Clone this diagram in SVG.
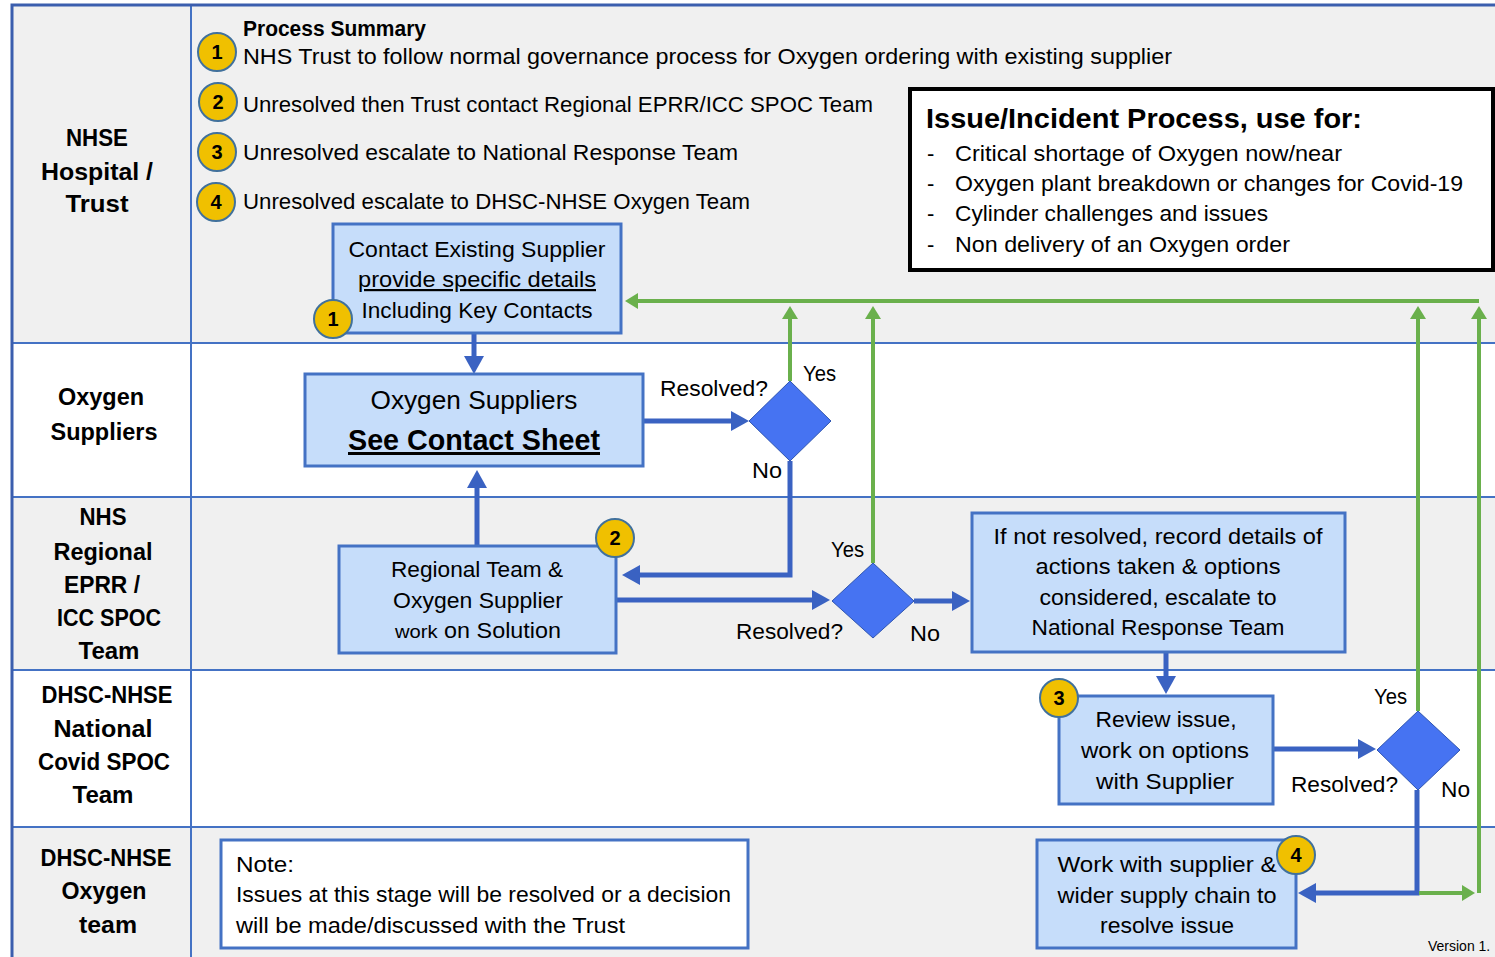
<svg xmlns="http://www.w3.org/2000/svg" width="1495" height="957" viewBox="0 0 1495 957">
<defs>
<style>
text{font-family:"Liberation Sans",Arial,sans-serif;fill:#000}
.lane{font-size:23px;font-weight:bold;text-anchor:middle}
.t{font-size:22px}
.c{text-anchor:middle}
.b{font-weight:bold}
.num{font-size:20px;font-weight:bold;text-anchor:middle}
.box{fill:#C6DDFA;stroke:#4472C4;stroke-width:3}
.dia{fill:#4673F2;stroke:#2F55B0;stroke-width:1}
.circ{fill:#F0C000;stroke:#41719C;stroke-width:2}
.div{stroke:#4472C4;stroke-width:2;fill:none}
.bl{stroke:#3A62C2;stroke-width:5;fill:none;marker-end:url(#ab)}
.gra{stroke:#6AB04C;stroke-width:4;fill:none;marker-end:url(#ag)}
</style>
<marker id="ab" viewBox="0 0 18 20" markerWidth="18" markerHeight="20" refX="9" refY="10" orient="auto" markerUnits="userSpaceOnUse"><path d="M0,0 L18,10 L0,20 z" fill="#3A62C2"/></marker>
<marker id="ag" viewBox="0 0 13 16" markerWidth="13" markerHeight="16" refX="6" refY="8" orient="auto" markerUnits="userSpaceOnUse"><path d="M0,0 L13,8 L0,16 z" fill="#6AB04C"/></marker>
</defs>
<rect x="0" y="0" width="1495" height="957" fill="#fff"/>
<g id="lanes">
<rect x="12" y="5" width="1483" height="338" fill="#F0F0F0"/>
<rect x="12" y="343" width="1483" height="154" fill="#fff"/>
<rect x="12" y="497" width="1483" height="173" fill="#F0F0F0"/>
<rect x="12" y="670" width="1483" height="157" fill="#fff"/>
<rect x="12" y="827" width="1483" height="130" fill="#F0F0F0"/>
<path class="div" d="M12,343 H1495 M12,497 H1495 M12,670 H1495 M12,827 H1495 M191,5 V957"/>
<path d="M12,957 V5 H1495" stroke="#3B5EAE" stroke-width="3" fill="none"/>
<text class="lane" x="97" y="146" textLength="62" lengthAdjust="spacingAndGlyphs">NHSE</text>
<text class="lane" x="97" y="180" textLength="112" lengthAdjust="spacingAndGlyphs">Hospital /</text>
<text class="lane" x="97" y="212" textLength="63" lengthAdjust="spacingAndGlyphs">Trust</text>
<text class="lane" x="101" y="405" textLength="86" lengthAdjust="spacingAndGlyphs">Oxygen</text>
<text class="lane" x="104" y="440" textLength="107" lengthAdjust="spacingAndGlyphs">Suppliers</text>
<text class="lane" x="103" y="525" textLength="47" lengthAdjust="spacingAndGlyphs">NHS</text>
<text class="lane" x="103" y="560" textLength="99" lengthAdjust="spacingAndGlyphs">Regional</text>
<text class="lane" x="102" y="593" textLength="76" lengthAdjust="spacingAndGlyphs">EPRR /</text>
<text class="lane" x="109" y="626" textLength="104" lengthAdjust="spacingAndGlyphs">ICC SPOC</text>
<text class="lane" x="109" y="659" textLength="61" lengthAdjust="spacingAndGlyphs">Team</text>
<text class="lane" x="107" y="703" textLength="131" lengthAdjust="spacingAndGlyphs">DHSC-NHSE</text>
<text class="lane" x="103" y="737" textLength="99" lengthAdjust="spacingAndGlyphs">National</text>
<text class="lane" x="104" y="770" textLength="132" lengthAdjust="spacingAndGlyphs">Covid SPOC</text>
<text class="lane" x="103" y="803" textLength="61" lengthAdjust="spacingAndGlyphs">Team</text>
<text class="lane" x="106" y="866" textLength="131" lengthAdjust="spacingAndGlyphs">DHSC-NHSE</text>
<text class="lane" x="104" y="899" textLength="85" lengthAdjust="spacingAndGlyphs">Oxygen</text>
<text class="lane" x="108" y="933" textLength="58" lengthAdjust="spacingAndGlyphs">team</text>
</g>
<g id="summary">
<text class="t b" x="243" y="36" textLength="183" lengthAdjust="spacingAndGlyphs">Process Summary</text>
<circle class="circ" cx="217" cy="52" r="19"/><text class="num" x="217" y="59">1</text>
<text class="t" x="243" y="64" textLength="929" lengthAdjust="spacingAndGlyphs">NHS Trust to follow normal governance process for Oxygen ordering with existing supplier</text>
<circle class="circ" cx="218" cy="102" r="19"/><text class="num" x="218" y="109">2</text>
<text class="t" x="243" y="112" textLength="630" lengthAdjust="spacingAndGlyphs">Unresolved then Trust contact Regional EPRR/ICC SPOC Team</text>
<circle class="circ" cx="217" cy="152" r="19"/><text class="num" x="217" y="159">3</text>
<text class="t" x="243" y="160" textLength="495" lengthAdjust="spacingAndGlyphs">Unresolved escalate to National Response Team</text>
<circle class="circ" cx="216" cy="202" r="19"/><text class="num" x="216" y="209">4</text>
<text class="t" x="243" y="209" textLength="507" lengthAdjust="spacingAndGlyphs">Unresolved escalate to DHSC-NHSE Oxygen Team</text>
</g>
<g id="legend">
<rect x="910" y="89" width="583" height="181" fill="#fff" stroke="#000" stroke-width="4"/>
<text class="b" x="926" y="128" font-size="28" textLength="436" lengthAdjust="spacingAndGlyphs">Issue/Incident Process, use for:</text>
<text class="t" x="927" y="161">-</text>
<text class="t" x="955" y="161" textLength="387" lengthAdjust="spacingAndGlyphs">Critical shortage of Oxygen now/near</text>
<text class="t" x="927" y="191">-</text>
<text class="t" x="955" y="191" textLength="508" lengthAdjust="spacingAndGlyphs">Oxygen plant breakdown or changes for Covid-19</text>
<text class="t" x="927" y="221">-</text>
<text class="t" x="955" y="221" textLength="313" lengthAdjust="spacingAndGlyphs">Cylinder challenges and issues</text>
<text class="t" x="927" y="252">-</text>
<text class="t" x="955" y="252" textLength="335" lengthAdjust="spacingAndGlyphs">Non delivery of an Oxygen order</text>
</g>
<g id="connectors">
<path class="bl" d="M474,334 V365"/>
<path class="bl" d="M644,421 H740"/>
<path class="bl" d="M790,461 V575 H631"/>
<path class="bl" d="M477,545 V479"/>
<path class="bl" d="M617,600 H821"/>
<path class="bl" d="M914,601 H961"/>
<path class="bl" d="M1166,653 V685"/>
<path class="bl" d="M1274,749 H1367"/>
<path class="bl" d="M1417,790 V893 H1307"/>
<path class="gra" d="M790,381 V313"/>
<path class="gra" d="M873,563 V313"/>
<path class="gra" d="M1418,711 V313"/>
<path class="gra" d="M1419,893 H1468"/>
<path class="gra" d="M1479,893 V313"/>
<path class="gra" d="M1479,301 H632"/>
</g>
<g id="contact-existing-supplier">
<rect class="box" x="333" y="224" width="288" height="109"/>
<text class="t c" x="477" y="257" textLength="257" lengthAdjust="spacingAndGlyphs">Contact Existing Supplier</text>
<text class="t c" x="477" y="287" textLength="238" lengthAdjust="spacingAndGlyphs" text-decoration="underline">provide specific details</text>
<text class="t c" x="477" y="318" textLength="231" lengthAdjust="spacingAndGlyphs">Including Key Contacts</text>
<circle class="circ" cx="333" cy="319" r="19"/><text class="num" x="333" y="326">1</text>
</g>
<g id="oxygen-suppliers">
<rect class="box" x="305" y="374" width="338" height="92"/>
<text class="c" x="474" y="409" font-size="26" textLength="207" lengthAdjust="spacingAndGlyphs">Oxygen Suppliers</text>
<text class="c b" x="474" y="450" font-size="30" textLength="252" lengthAdjust="spacingAndGlyphs" text-decoration="underline">See Contact Sheet</text>
</g>
<g id="decision-1">
<polygon class="dia" points="790,381 831,421 790,461 749,421"/>
<text class="t" x="660" y="396" textLength="108" lengthAdjust="spacingAndGlyphs">Resolved?</text>
<text class="t" x="803" y="381" textLength="33" lengthAdjust="spacingAndGlyphs">Yes</text>
<text class="t" x="752" y="478" textLength="30" lengthAdjust="spacingAndGlyphs">No</text>
</g>
<g id="regional-team">
<rect class="box" x="339" y="546" width="277" height="107"/>
<text class="t c" x="477" y="577" textLength="172" lengthAdjust="spacingAndGlyphs">Regional Team &amp;</text>
<text class="t c" x="478" y="608" textLength="170" lengthAdjust="spacingAndGlyphs">Oxygen Supplier</text>
<text class="t c" x="478" y="638" textLength="166" lengthAdjust="spacingAndGlyphs"><tspan font-size="19">work</tspan> on Solution</text>
<circle class="circ" cx="615" cy="538" r="19"/><text class="num" x="615" y="545">2</text>
</g>
<g id="decision-2">
<polygon class="dia" points="873,563 914,601 873,638 832,601"/>
<text class="t" x="831" y="557" textLength="33" lengthAdjust="spacingAndGlyphs">Yes</text>
<text class="t" x="736" y="639" textLength="107" lengthAdjust="spacingAndGlyphs">Resolved?</text>
<text class="t" x="910" y="641" textLength="30" lengthAdjust="spacingAndGlyphs">No</text>
</g>
<g id="escalate-national">
<rect class="box" x="972" y="513" width="373" height="139"/>
<text class="t c" x="1158" y="544" textLength="329" lengthAdjust="spacingAndGlyphs">If not resolved, record details of</text>
<text class="t c" x="1158" y="574" textLength="245" lengthAdjust="spacingAndGlyphs">actions taken &amp; options</text>
<text class="t c" x="1158" y="605" textLength="237" lengthAdjust="spacingAndGlyphs">considered, escalate to</text>
<text class="t c" x="1158" y="635" textLength="253" lengthAdjust="spacingAndGlyphs">National Response Team</text>
</g>
<g id="review-issue">
<rect class="box" x="1059" y="696" width="214" height="108"/>
<text class="t c" x="1166" y="727" textLength="141" lengthAdjust="spacingAndGlyphs">Review issue,</text>
<text class="t c" x="1165" y="758" textLength="168" lengthAdjust="spacingAndGlyphs">work on options</text>
<text class="t c" x="1165" y="789" textLength="138" lengthAdjust="spacingAndGlyphs">with Supplier</text>
<circle class="circ" cx="1059" cy="698" r="19"/><text class="num" x="1059" y="705">3</text>
</g>
<g id="decision-3">
<polygon class="dia" points="1418,711 1460,750 1418,790 1377,750"/>
<text class="t" x="1374" y="704" textLength="33" lengthAdjust="spacingAndGlyphs">Yes</text>
<text class="t" x="1291" y="792" textLength="107" lengthAdjust="spacingAndGlyphs">Resolved?</text>
<text class="t" x="1441" y="797" textLength="29" lengthAdjust="spacingAndGlyphs">No</text>
</g>
<g id="work-with-supplier">
<rect class="box" x="1037" y="840" width="259" height="108"/>
<text class="t c" x="1167" y="872" textLength="219" lengthAdjust="spacingAndGlyphs">Work with supplier &amp;</text>
<text class="t c" x="1167" y="903" textLength="219" lengthAdjust="spacingAndGlyphs">wider supply chain to</text>
<text class="t c" x="1167" y="933" textLength="134" lengthAdjust="spacingAndGlyphs">resolve issue</text>
<circle class="circ" cx="1296" cy="855" r="19"/><text class="num" x="1296" y="862">4</text>
</g>
<g id="note">
<rect x="221" y="840" width="527" height="108" fill="#fff" stroke="#4472C4" stroke-width="3"/>
<text class="t" x="236" y="872" textLength="58" lengthAdjust="spacingAndGlyphs">Note:</text>
<text class="t" x="236" y="902" textLength="495" lengthAdjust="spacingAndGlyphs">Issues at this stage will be resolved or a decision</text>
<text class="t" x="236" y="933" textLength="389" lengthAdjust="spacingAndGlyphs">will be made/discussed with the Trust</text>
</g>
<text x="1428" y="951" font-size="14">Version 1.</text>
</svg>
